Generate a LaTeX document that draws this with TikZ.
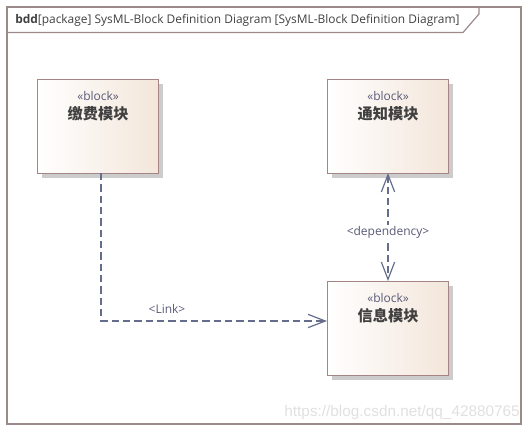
\documentclass[tikz,border=0pt]{standalone}
\usepackage{fontspec}
\setmainfont{Open Sans}
\newfontfamily\cjk{Noto Sans CJK SC}
\newfontfamily\wmfont{Liberation Sans}
\usetikzlibrary{arrows.meta,shadows,calc}
\definecolor{frameC}{HTML}{9C8A8A}
\definecolor{boxC}{HTML}{A48484}
\definecolor{fillL}{HTML}{FFFFFF}
\definecolor{fillR}{HTML}{F3E6DA}
\definecolor{lineC}{HTML}{646E8C}
\definecolor{txtC}{HTML}{404040}
\definecolor{stC}{HTML}{5A5A78}
\tikzset{
  blockbox/.style={draw=boxC, line width=0.9pt, left color=fillL, right color=fillR,
    minimum width=90.75pt, minimum height=70.5pt, anchor=north west,
    drop shadow={shadow xshift=3pt, shadow yshift=-3pt, fill=black!20, opacity=1}},
  conn/.style={draw=lineC, line width=0.9pt, dash pattern=on 5.5pt off 3pt},
  barb/.tip={Straight Barb[length=13pt,width=10pt,line width=0.9pt]},
  lbl/.style={font=\fontsize{9}{11}\selectfont, text=stC, inner sep=1pt},
  namelbl/.style={font=\cjk\bfseries\fontsize{11.4}{13}\selectfont, text=txtC}
}
\begin{document}
\begin{tikzpicture}[x=0.75pt,y=-0.75pt]
\useasboundingbox (0,0) rectangle (529,433);
% outer frame
\draw[frameC, line width=1.2pt] (7,7) rectangle (521,424);
\draw[frameC, line width=0.9pt] (7,32.5) -- (463,32.5) -- (479,14) -- (479,7);
\node[anchor=west, inner sep=0pt, text=txtC, font=\fontsize{8.95}{11}\selectfont] (title) at (15,20.5)
  {\textbf{bdd}[package] SysML-Block Definition Diagram [SysML-Block Definition Diagram]};
% blocks
\node[blockbox] (jf) at (37,79) {};
\node[blockbox] (tz) at (327,79) {};
\node[blockbox] (xx) at (327,281) {};
\node[lbl] (jfs) at ($(jf.north)+(0,17)$) {«block»};
\node[namelbl] (jfn) at ($(jf.north)+(0,35)$) {缴费模块};
\node[lbl] (tzs) at ($(tz.north)+(0,17)$) {«block»};
\node[namelbl] (tzn) at ($(tz.north)+(0,35)$) {通知模块};
\node[lbl] (xxs) at ($(xx.north)+(0,17)$) {«block»};
\node[namelbl] (xxn) at ($(xx.north)+(0,35)$) {信息模块};
% connectors
\coordinate (tzb) at (388,173);
\coordinate (xxt) at (388,281);
\draw[conn, barb-barb] (tzb) -- (xxt);
\node[lbl, fill=white] (dep) at (388,232) {<dependency>};
\coordinate (jfb) at (101,173);
\coordinate (xxl) at (327,321);
\draw[conn, -barb] (jfb) |- (xxl);
\node[lbl] (lnk) at (167,309) {<Link>};
% watermark
\node[anchor=east, text=black!12, font=\wmfont\fontsize{11.5}{13}\selectfont, inner sep=0pt] (wm) at (520,413) {https://blog.csdn.net/qq\_42880765};
\end{tikzpicture}
\end{document}
